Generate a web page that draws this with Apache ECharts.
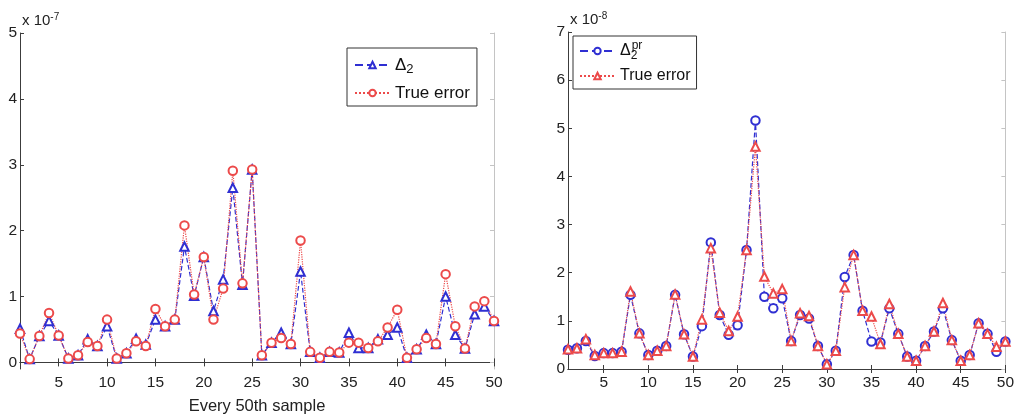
<!DOCTYPE html>
<html>
<head>
<meta charset="utf-8">
<title>Error estimates vs. true error</title>
<script src="https://cdn.jsdelivr.net/npm/echarts@6/dist/echarts.min.js"></script>
<style>
  html, body { margin: 0; padding: 0; background: #fff; }
  #chart { width: 1017px; height: 420px; }
</style>
</head>
<body>
<div id="chart"></div>
<script>
// Sample index (every 50th sample)
const samples = [1,2,3,4,5,6,7,8,9,10,11,12,13,14,15,16,17,18,19,20,
  21,22,23,24,25,26,27,28,29,30,31,32,33,34,35,36,37,38,39,40,
  41,42,43,44,45,46,47,48,49,50];

// Left panel, values in units of 1e-7
const delta2 = [0.51,0.05,0.40,0.63,0.41,0.06,0.11,0.35,0.25,0.55,
  0.06,0.14,0.36,0.27,0.65,0.55,0.65,1.76,1.01,1.60,
  0.78,1.26,2.65,1.18,2.93,0.11,0.30,0.45,0.28,1.38,
  0.16,0.07,0.16,0.15,0.45,0.22,0.22,0.35,0.42,0.53,
  0.07,0.20,0.42,0.28,1.00,0.42,0.21,0.73,0.85,0.63];
const trueErrLeft = [0.44,0.05,0.40,0.75,0.41,0.06,0.11,0.31,0.25,0.65,
  0.06,0.14,0.32,0.25,0.81,0.55,0.65,2.08,1.03,1.60,
  0.65,1.12,2.91,1.20,2.93,0.11,0.30,0.37,0.28,1.85,
  0.16,0.07,0.16,0.15,0.30,0.30,0.22,0.32,0.53,0.80,
  0.07,0.20,0.37,0.28,1.34,0.55,0.21,0.85,0.93,0.63];

// Right panel, values in units of 1e-8
const delta2pr = [0.40,0.43,0.58,0.27,0.33,0.33,0.36,1.54,0.74,0.29,
  0.38,0.48,1.54,0.72,0.26,0.89,2.63,1.12,0.71,0.91,
  2.47,5.16,1.50,1.26,1.47,0.58,1.12,1.05,0.48,0.10,
  0.38,1.91,2.37,1.21,0.57,0.55,1.26,0.73,0.26,0.17,
  0.48,0.78,1.26,0.60,0.17,0.29,0.95,0.73,0.36,0.57];
const trueErrRight = [0.41,0.43,0.62,0.29,0.33,0.33,0.36,1.61,0.74,0.29,
  0.38,0.48,1.55,0.72,0.26,1.03,2.51,1.17,0.79,1.09,
  2.47,4.62,1.92,1.57,1.66,0.58,1.16,1.10,0.48,0.10,
  0.38,1.70,2.37,1.21,1.09,0.52,1.35,0.73,0.26,0.17,
  0.48,0.78,1.37,0.60,0.17,0.29,0.95,0.73,0.46,0.57];

// Tick positions
const xTicks = [5,10,15,20,25,30,35,40,45,50];
const yTicksLeft = [0,1,2,3,4,5];
const yTicksRight = [0,1,2,3,4,5,6,7];

const FONT = "'Liberation Sans', Arial, sans-serif";
const BLUE = '#2f2fd2';
const RED = '#ec4a4a';
const AXIS_DARK = '#3c3c3c';
const AXIS_LIGHT = '#c4c4c4';
const TICK_FS = 15.5;

const pair = (ys) => ys.map((v, i) => [samples[i], v]);

function richFor(fs) {
  const s = Math.round(fs * 0.75);
  return {
    n: { fontSize: fs, fontFamily: FONT, color: '#111', lineHeight: 22 },
    sub: { fontSize: s, fontFamily: FONT, color: '#111', verticalAlign: 'bottom', lineHeight: 12 },
    subz: { fontSize: s, fontFamily: FONT, color: '#111', verticalAlign: 'bottom', lineHeight: 12, width: 1 },
    sup: { fontSize: s, fontFamily: FONT, color: '#111', verticalAlign: 'top', lineHeight: 12 }
  };
}

const legendLabels = {
  'delta2': '{n|Δ}{sub|2}',
  'trueLeft': '{n|True error}',
  'delta2pr': '{n|Δ}{subz|2}{sup|pr}',
  'trueRight': '{n|True error}'
};

function xAxisPair(gi) {
  return [
    {
      type: 'value', gridIndex: gi, position: 'bottom', min: 1, max: 50,
      axisLine: { lineStyle: { color: AXIS_DARK, width: 1 } },
      axisTick: { inside: true, length: 4, customValues: xTicks, lineStyle: { color: AXIS_DARK } },
      axisLabel: { customValues: xTicks, fontFamily: FONT, fontSize: TICK_FS, color: '#222', margin: 6 },
      splitLine: { show: false },
      name: gi === 0 ? 'Every 50th sample' : '',
      nameLocation: 'middle', nameGap: 29,
      nameTextStyle: { fontFamily: FONT, fontSize: 16.5, color: '#222' }
    },
    {
      type: 'value', gridIndex: gi, position: 'top', min: 1, max: 50,
      axisLine: { lineStyle: { color: AXIS_DARK, width: 1 } },
      axisTick: { inside: true, length: 4, customValues: xTicks, lineStyle: { color: AXIS_DARK } },
      axisLabel: { show: false },
      splitLine: { show: false }
    }
  ];
}

function yAxisPair(gi, min, max, ticks, exp) {
  return [
    {
      type: 'value', gridIndex: gi, position: 'left', min: min, max: max,
      axisLine: { show: true, lineStyle: { color: AXIS_DARK, width: 1 } },
      axisTick: { show: true, inside: true, length: 4, customValues: ticks, lineStyle: { color: AXIS_DARK } },
      axisLabel: { customValues: ticks, fontFamily: FONT, fontSize: TICK_FS, color: '#222', margin: 3 },
      splitLine: { show: false },
      name: '{a|x 10}{s|' + exp + '}',
      nameLocation: 'end', nameGap: 3,
      nameTextStyle: {
        align: 'left', verticalAlign: 'bottom', padding: [0, 0, 0, 2],
        rich: {
          a: { fontFamily: FONT, fontSize: 15, color: '#222', lineHeight: 18 },
          s: { fontFamily: FONT, fontSize: 10, color: '#222', verticalAlign: 'top', lineHeight: 10 }
        }
      }
    },
    {
      type: 'value', gridIndex: gi, position: 'right', min: min, max: max,
      axisLine: { show: true, lineStyle: { color: AXIS_LIGHT, width: 1 } },
      axisTick: { show: true, inside: true, length: 4, customValues: ticks, lineStyle: { color: AXIS_LIGHT } },
      axisLabel: { show: false },
      splitLine: { show: false }
    }
  ];
}

function lineSeries(id, xi, yi, data, color, type, symbol) {
  return {
    id: id, name: id, type: 'line', xAxisIndex: xi, yAxisIndex: yi,
    data: pair(data),
    symbol: symbol, symbolSize: 8.5,
    itemStyle: { color: color, borderColor: color, borderWidth: 1 },
    lineStyle: { color: color, width: 1.2, type: type },
    emphasis: { disabled: true },
    animation: false
  };
}

function legendFor(fs) {
  return {
    orient: 'vertical',
    backgroundColor: '#fff',
    borderColor: '#333', borderWidth: 1,
    itemWidth: 35, itemHeight: 8,
    selectedMode: false,
    formatter: (name) => legendLabels[name],
    textStyle: { rich: richFor(fs), lineHeight: 22 }
  };
}

const option = {
  animation: false,
  backgroundColor: '#fff',
  grid: [
    { left: 20, top: 33, width: 474, height: 337 },
    { left: 568, top: 32, width: 440, height: 337 }
  ],
  xAxis: [...xAxisPair(0), ...xAxisPair(1)],
  yAxis: [
    ...yAxisPair(0, -0.1, 5, yTicksLeft, '-7'),
    ...yAxisPair(1, 0, 7, yTicksRight, '-8')
  ],
  legend: [
    Object.assign(legendFor(17), {
      left: 347, top: 48, padding: [6, 7, 2, 7], itemGap: 6,
      data: ['delta2', 'trueLeft']
    }),
    Object.assign(legendFor(16), {
      left: 573, top: 36, padding: [4, 6, 2, 6], itemGap: 3,
      data: ['delta2pr', 'trueRight']
    })
  ],
  series: [
    lineSeries('delta2', 0, 0, delta2, BLUE, 'dashed', 'emptyTriangle'),
    lineSeries('trueLeft', 0, 0, trueErrLeft, RED, 'dotted', 'emptyCircle'),
    lineSeries('delta2pr', 2, 2, delta2pr, BLUE, 'dashed', 'emptyCircle'),
    lineSeries('trueRight', 2, 2, trueErrRight, RED, 'dotted', 'emptyTriangle')
  ]
};

const chart = echarts.init(document.getElementById('chart'), null, { renderer: 'canvas' });
chart.setOption(option);
</script>
</body>
</html>
